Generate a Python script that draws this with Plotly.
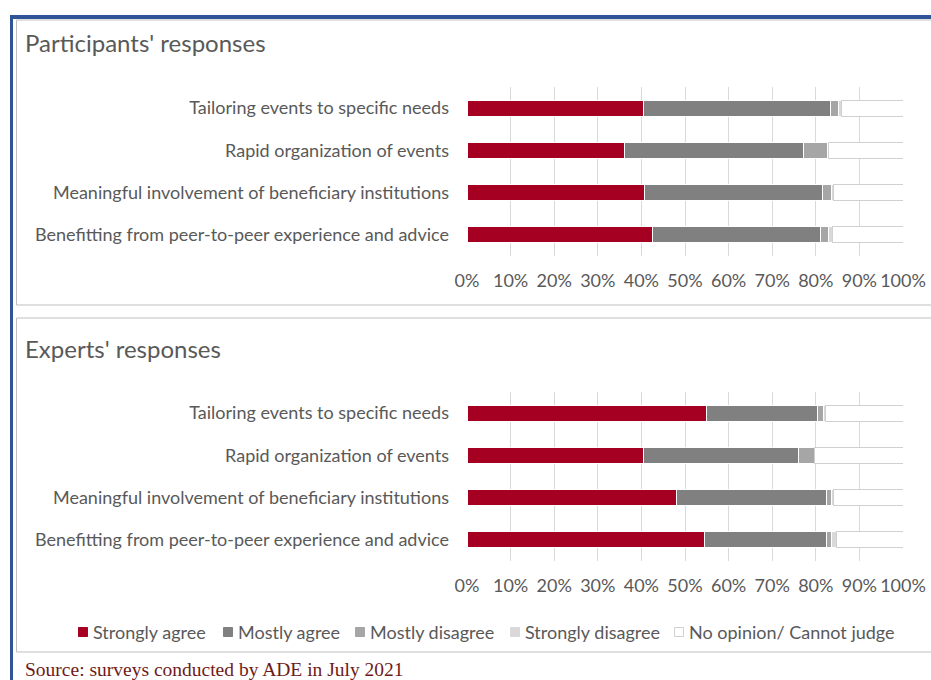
import plotly.graph_objects as go

# Survey statements (top to bottom)
categories = [
    "Tailoring events to specific needs",
    "Rapid organization of events",
    "Meaningful involvement of beneficiary institutions",
    "Benefitting from peer-to-peer experience and advice",
]
series_names = [
    "Strongly agree",
    "Mostly agree",
    "Mostly disagree",
    "Strongly disagree",
    "No opinion/ Cannot judge",
]
tick_values = [0, 10, 20, 30, 40, 50, 60, 70, 80, 90, 100]
tick_labels = ["0%", "10%", "20%", "30%", "40%", "50%", "60%", "70%", "80%", "90%", "100%"]

# Participants' responses (% of respondents)
participants_strongly_agree = [40.4, 36.2, 40.6, 42.5]
participants_mostly_agree = [42.9, 41.0, 40.9, 38.5]
participants_mostly_disagree = [1.9, 5.4, 2.2, 1.8]
participants_strongly_disagree = [0.7, 0.3, 0.3, 1.0]
participants_no_opinion = [14.1, 17.1, 16.0, 16.2]

# Experts' responses (% of respondents)
experts_strongly_agree = [54.9, 40.4, 48.0, 54.5]
experts_mostly_agree = [25.6, 35.7, 34.4, 27.9]
experts_mostly_disagree = [1.2, 3.5, 1.3, 1.2]
experts_strongly_disagree = [0.5, 0.2, 0.3, 1.1]
experts_no_opinion = [17.8, 20.2, 16.0, 15.3]

colors = ["#A50021", "#808080", "#A6A6A6", "#D9D9D9", "#FFFFFF"]
edge_colors = ["#FFFFFF", "#FFFFFF", "#FFFFFF", "#FFFFFF", "#D0D0D0"]

W, H = 931, 680
FONT = "Lato"
TEXT = "#595959"


def fx(px):
    return px / W


def fy(py):
    return 1 - py / H


fig = go.Figure()

panels = [
    ("x", "y", [participants_strongly_agree, participants_mostly_agree,
                participants_mostly_disagree, participants_strongly_disagree,
                participants_no_opinion]),
    ("x2", "y2", [experts_strongly_agree, experts_mostly_agree,
                  experts_mostly_disagree, experts_strongly_disagree,
                  experts_no_opinion]),
]

for xa, ya, series in panels:
    for name, vals, col, edge in zip(series_names, series, colors, edge_colors):
        fig.add_trace(go.Bar(
            y=categories, x=vals, name=name, orientation="h",
            marker=dict(color=col, line=dict(color=edge, width=1)),
            xaxis=xa, yaxis=ya, showlegend=False, legendgroup=name,
            hovertemplate="%{y}<br>" + name + ": %{x:.1f}%<extra></extra>",
        ))

xaxis_common = dict(
    range=[0, 100], tickvals=tick_values, ticktext=tick_labels, tickangle=0,
    showgrid=True, gridcolor="#D9D9D9", gridwidth=1,
    zeroline=False, showline=False, ticks="",
    tickfont=dict(family=FONT, size=18, color=TEXT),
    ticklabelstandoff=12, fixedrange=True, automargin=False,
)
yaxis_common = dict(
    categoryorder="array", categoryarray=categories, autorange="reversed",
    showgrid=False, zeroline=False, showline=False, ticks="",
    tickfont=dict(family=FONT, size=18, color=TEXT),
    ticklabelstandoff=17, fixedrange=True, automargin=False,
)

shapes = [
    # panel frames
    dict(type="rect", xref="paper", yref="paper",
         x0=fx(16.5), x1=fx(940), y0=fy(20), y1=fy(305),
         line=dict(color="#BFBFBF", width=1), fillcolor="rgba(0,0,0,0)"),
    dict(type="rect", xref="paper", yref="paper",
         x0=fx(16.5), x1=fx(940), y0=fy(318), y1=fy(652),
         line=dict(color="#BFBFBF", width=1), fillcolor="rgba(0,0,0,0)"),
    # blue page rules
    dict(type="line", xref="paper", yref="paper",
         x0=fx(10), x1=fx(935), y0=fy(17), y1=fy(17),
         line=dict(color="#2F5597", width=4)),
    dict(type="line", xref="paper", yref="paper",
         x0=fx(11.5), x1=fx(11.5), y0=fy(15), y1=fy(690),
         line=dict(color="#2F5597", width=3)),
]

annotations = [
    dict(text="Participants' responses", xref="paper", yref="paper",
         x=fx(23), y=fy(42), xanchor="left", yanchor="middle",
         showarrow=False, font=dict(family=FONT, size=24, color=TEXT)),
    dict(text="Experts' responses", xref="paper", yref="paper",
         x=fx(23), y=fy(348), xanchor="left", yanchor="middle",
         showarrow=False, font=dict(family=FONT, size=24, color=TEXT)),
    dict(text="Source: surveys conducted by ADE in July 2021",
         xref="paper", yref="paper", x=fx(23), y=fy(669),
         xanchor="left", yanchor="middle", showarrow=False,
         font=dict(family="Liberation Serif", size=19.5, color="#6E1A1A")),
]

# Shared legend row beneath the second panel
legend_marker_x = [83, 228, 360, 515, 679]
legend_y = 632
for name, col, edge, cx in zip(series_names, colors, edge_colors, legend_marker_x):
    shapes.append(dict(
        type="rect", xref="paper", yref="paper",
        x0=fx(cx - 4.5), x1=fx(cx + 4.5), y0=fy(legend_y - 4.5), y1=fy(legend_y + 4.5),
        fillcolor=col, line=dict(color=edge if edge != "#FFFFFF" else col, width=1),
    ))
    annotations.append(dict(
        text=name, xref="paper", yref="paper", x=fx(cx + 8), y=fy(legend_y),
        xanchor="left", yanchor="middle", showarrow=False,
        font=dict(family=FONT, size=18, color=TEXT),
    ))

fig.update_layout(
    width=W, height=H,
    margin=dict(l=0, r=0, t=0, b=0, autoexpand=False),
    paper_bgcolor="white", plot_bgcolor="white",
    barmode="stack", bargap=0.62,
    font=dict(family=FONT, color=TEXT),
    showlegend=False,
    xaxis=dict(domain=[fx(467), fx(903)], anchor="y", **xaxis_common),
    yaxis=dict(domain=[fy(256), fy(87)], anchor="x", **yaxis_common),
    xaxis2=dict(domain=[fx(467), fx(903)], anchor="y2", **xaxis_common),
    yaxis2=dict(domain=[fy(561), fy(392)], anchor="x2", **yaxis_common),
    shapes=shapes,
    annotations=annotations,
)

fig.write_html("out.html")
